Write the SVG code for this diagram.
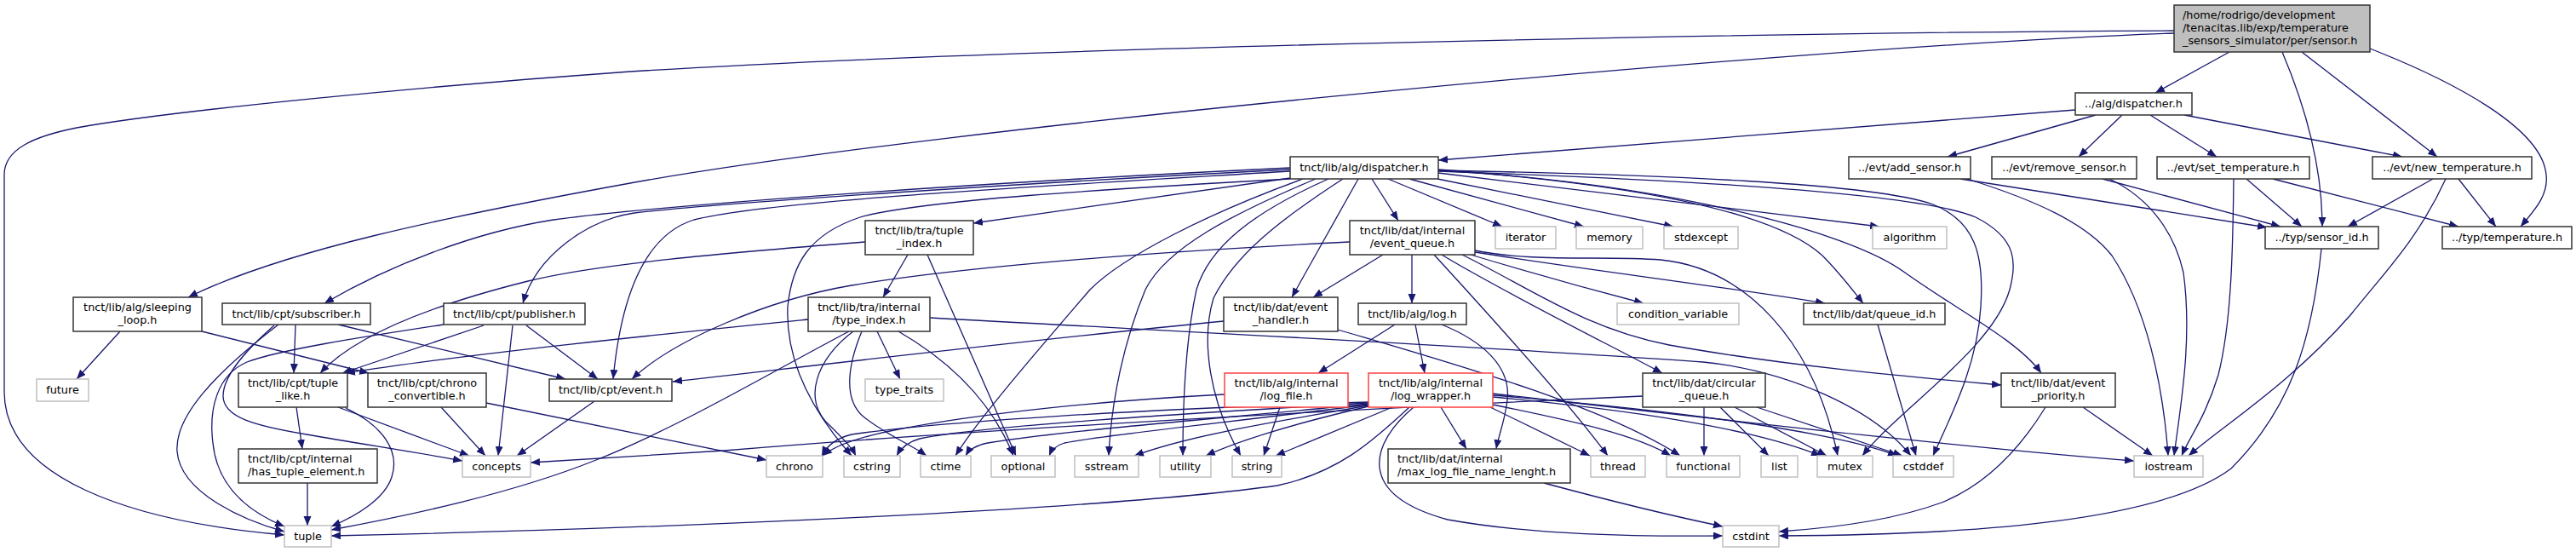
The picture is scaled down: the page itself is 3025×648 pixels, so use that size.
<svg xmlns="http://www.w3.org/2000/svg" width="3025" height="648" viewBox="0 0 3025 648">
<style>
.e{fill:none;stroke:#191970;stroke-width:1.3;marker-end:url(#ah)}
.n rect{fill:#fff;stroke:#333;stroke-width:1.5}
.s rect{stroke:#c0c0c0}
.r rect{stroke:#ff4040}
.t rect{fill:#bfbfbf}
text{font-family:"DejaVu Sans",Verdana,sans-serif;font-size:12.8px;fill:#000;text-anchor:middle}
.l text{text-anchor:start}
</style>
<defs>
<marker id="ah" markerUnits="userSpaceOnUse" markerWidth="12" markerHeight="10" refX="11" refY="4.5" orient="auto"><path d="M0,0L11,4.5L0,9z" fill="#191970"/></marker>
</defs>
<rect width="3025" height="648" fill="#fff"/>
<g id="connectors">
<path class="e" d="M2618,61L2531,109"/>
<path class="e" d="M2680,61C2705,120 2727,190 2727,266"/>
<path class="e" d="M2703,61L2862,184"/>
<path class="e" d="M2783,57C2880,95 2985,150 2990,205C2993,230 2975,248 2960,266"/>
<path class="e" d="M2553,36C2100,38 1200,55 740,84C500,101 200,130 90,150C40,160 5,175 5,205L5,460C5,560 150,612 334,628"/>
<path class="e" d="M2553,39C2100,55 1100,150 740,215C520,255 330,295 221,349"/>
<path class="e" d="M2437,129L1689,188"/>
<path class="e" d="M2461,135L2287,184"/>
<path class="e" d="M2492,135L2441,184"/>
<path class="e" d="M2525,135L2603,184"/>
<path class="e" d="M2565,135L2821,184"/>
<path class="e" d="M2302,210L2662,267"/>
<path class="e" d="M2310,210C2390,235 2450,262 2480,300C2520,360 2540,450 2546,535"/>
<path class="e" d="M2469,210L2678,266"/>
<path class="e" d="M2477,210C2530,235 2555,280 2564,320C2575,400 2560,480 2553,535"/>
<path class="e" d="M2638,210L2703,266"/>
<path class="e" d="M2669,210L2887,266"/>
<path class="e" d="M2623,210C2622,300 2620,380 2605,440C2590,490 2570,515 2562,535"/>
<path class="e" d="M2857,210L2757,266"/>
<path class="e" d="M2887,210L2931,266"/>
<path class="e" d="M2872,210C2840,280 2800,320 2760,370C2690,450 2610,500 2570,535"/>
<path class="e" d="M2726,292C2715,400 2690,480 2620,550C2540,610 2330,628 2089,629"/>
<path class="e" d="M2446,478L2528,535"/>
<path class="e" d="M2402,478C2370,530 2330,570 2280,590C2220,612 2150,620 2089,624"/>
<path class="e" d="M2205,381L2250,535"/>
<path class="e" d="M1929,465C1700,475 1200,500 850,529C750,535 680,540 623,543"/>
<path class="e" d="M2001,478L2001,535"/>
<path class="e" d="M2020,478L2077,535"/>
<path class="e" d="M2037,478L2145,535"/>
<path class="e" d="M2063,478L2234,535"/>
<path class="e" d="M1692,478L1722,527"/>
<path class="e" d="M1635,478L1498,535"/>
<path class="e" d="M1607,477C1530,495 1460,515 1416,535"/>
<path class="e" d="M1607,476C1500,495 1400,510 1332,535"/>
<path class="e" d="M1607,475C1450,495 1300,510 1250,520C1240,523 1235,528 1232,535"/>
<path class="e" d="M1607,474C1450,490 1250,505 1160,520C1145,523 1138,528 1134,535"/>
<path class="e" d="M1607,473C1400,485 1150,500 1080,515C1065,519 1058,526 1053,535"/>
<path class="e" d="M1607,472C1350,480 1100,495 1000,510C980,515 970,525 965,535"/>
<path class="e" d="M1655,478C1610,520 1570,555 1500,570C1300,598 800,620 389,629"/>
<path class="e" d="M1660,478C1610,520 1590,580 1700,610C1800,628 1920,630 2023,629"/>
<path class="e" d="M1750,478L1867,535"/>
<path class="e" d="M1753,475C1850,495 1920,510 1962,535"/>
<path class="e" d="M1753,466C1900,480 2050,500 2138,535"/>
<path class="e" d="M1753,464C1950,480 2150,505 2228,535"/>
<path class="e" d="M1753,462C2000,490 2300,525 2506,541"/>
<path class="e" d="M1503,478L1484,535"/>
<path class="e" d="M1438,463C1300,470 1150,485 1050,505C1000,515 978,525 966,535"/>
<path class="e" d="M1638,381L1548,438"/>
<path class="e" d="M1662,381L1673,438"/>
<path class="e" d="M1693,381C1740,400 1775,430 1770,470C1767,495 1760,510 1757,527"/>
<path class="e" d="M1813,567C1880,585 1960,605 2023,618"/>
<path class="e" d="M1437,377C1200,400 950,430 790,448"/>
<path class="e" d="M1571,387C1700,425 1880,475 1973,535"/>
<path class="e" d="M1624,299L1542,349"/>
<path class="e" d="M1658,299L1658,356"/>
<path class="e" d="M1684,299C1740,360 1840,470 1888,535"/>
<path class="e" d="M1693,299C1760,340 1900,410 1952,438"/>
<path class="e" d="M1717,299C1800,340 1860,385 1960,405C2100,430 2250,443 2350,452"/>
<path class="e" d="M1727,299C1790,318 1880,343 1930,356"/>
<path class="e" d="M1732,296C1850,315 2050,340 2143,356"/>
<path class="e" d="M1732,294C1800,308 1880,300 1950,305C2050,315 2130,400 2158,535"/>
<path class="e" d="M1585,284C1300,298 1100,318 1000,335C900,352 790,400 742,445"/>
<path class="e" d="M1016,284C850,297 700,310 620,330C520,355 420,390 376,438"/>
<path class="e" d="M1066,299L1037,349"/>
<path class="e" d="M1089,299L1193,535"/>
<path class="e" d="M949,375C800,390 550,415 406,438"/>
<path class="e" d="M997,389C900,440 800,500 700,540C600,580 480,605 389,622"/>
<path class="e" d="M1002,389C960,420 940,470 975,500C990,515 1000,525 1005,535"/>
<path class="e" d="M1012,389C995,430 990,470 1015,490C1040,510 1070,522 1088,535"/>
<path class="e" d="M1030,389L1057,445"/>
<path class="e" d="M1055,389C1100,415 1160,460 1190,535"/>
<path class="e" d="M1092,373C1400,390 1800,410 2000,425C2100,435 2200,480 2244,535"/>
<path class="e" d="M141,389L90,445"/>
<path class="e" d="M237,389L433,438"/>
<path class="e" d="M347,381L345,438"/>
<path class="e" d="M397,381L664,445"/>
<path class="e" d="M327,381C250,440 205,490 208,530C212,580 290,612 334,624"/>
<path class="e" d="M322,382C290,410 262,440 262,465C262,490 300,500 360,510C430,522 500,533 543,541"/>
<path class="e" d="M568,382L402,438"/>
<path class="e" d="M602,382L585,535"/>
<path class="e" d="M618,382L702,445"/>
<path class="e" d="M521,381C430,395 330,410 290,425C255,440 245,480 250,520C255,570 290,600 334,618"/>
<path class="e" d="M348,478L355,527"/>
<path class="e" d="M397,478L551,535"/>
<path class="e" d="M406,479C450,500 470,530 460,560C452,585 420,605 389,618"/>
<path class="e" d="M361,567L361,617"/>
<path class="e" d="M518,478L570,535"/>
<path class="e" d="M571,473L900,540"/>
<path class="e" d="M698,471L607,535"/>
<path class="e" d="M1515,209L1143,262"/>
<path class="e" d="M1515,197C1200,212 800,238 650,258C560,272 460,310 381,356"/>
<path class="e" d="M1515,199C1200,215 850,238 745,250C690,258 630,300 614,356"/>
<path class="e" d="M1515,201C1200,220 900,236 815,258C760,275 730,340 720,445"/>
<path class="e" d="M1515,210C1300,222 1080,235 1010,255C950,275 930,310 925,360C922,430 960,490 1000,535"/>
<path class="e" d="M1530,210C1420,250 1320,300 1280,340C1220,410 1150,490 1122,535"/>
<path class="e" d="M1545,210C1450,250 1370,290 1345,340C1320,400 1305,470 1302,535"/>
<path class="e" d="M1560,210C1470,250 1420,290 1405,340C1392,400 1389,470 1389,535"/>
<path class="e" d="M1577,210C1500,260 1450,300 1425,350C1410,400 1420,470 1457,535"/>
<path class="e" d="M1595,210L1517,349"/>
<path class="e" d="M1611,210L1642,259"/>
<path class="e" d="M1630,210L1764,266"/>
<path class="e" d="M1655,210L1860,266"/>
<path class="e" d="M1688,210L1965,266"/>
<path class="e" d="M1689,203L2207,266"/>
<path class="e" d="M1689,199C1900,215 2080,245 2140,300C2160,320 2175,340 2188,356"/>
<path class="e" d="M1689,200C1950,215 2170,270 2237,320C2300,365 2370,400 2397,438"/>
<path class="e" d="M1689,201C1950,210 2250,225 2320,255C2370,280 2368,310 2360,340C2340,410 2230,480 2187,535"/>
<path class="e" d="M1689,200C1950,205 2200,215 2270,240C2320,260 2330,300 2326,360C2322,430 2290,490 2270,535"/>
</g>
<g id="sensor_h" class="n t l"><rect x="2553" y="6" width="230" height="55"/><text x="2563" y="22.3">/home/rodrigo/development</text><text x="2563" y="37.3">/tenacitas.lib/exp/temperature</text><text x="2563" y="52.3">_sensors_simulator/per/sensor.h</text></g>
<g id="alg_dispatcher_rel" class="n"><rect x="2437" y="109" width="137" height="26"/><text x="2505.5" y="126">../alg/dispatcher.h</text></g>
<g id="alg_dispatcher" class="n"><rect x="1515" y="184" width="174" height="26"/><text x="1602" y="201">tnct/lib/alg/dispatcher.h</text></g>
<g id="add_sensor" class="n"><rect x="2171" y="184" width="143" height="26"/><text x="2242.5" y="201">../evt/add_sensor.h</text></g>
<g id="remove_sensor" class="n"><rect x="2339" y="184" width="170" height="26"/><text x="2424" y="201">../evt/remove_sensor.h</text></g>
<g id="set_temperature" class="n"><rect x="2533" y="184" width="179" height="26"/><text x="2622.5" y="201">../evt/set_temperature.h</text></g>
<g id="new_temperature" class="n"><rect x="2786" y="184" width="187" height="26"/><text x="2879.5" y="201">../evt/new_temperature.h</text></g>
<g id="sensor_id" class="n"><rect x="2660" y="266" width="133" height="26"/><text x="2726.5" y="283">../typ/sensor_id.h</text></g>
<g id="temperature" class="n"><rect x="2868" y="266" width="152" height="26"/><text x="2944" y="283">../typ/temperature.h</text></g>
<g id="sleeping_loop" class="n"><rect x="86" y="349" width="151" height="40"/><text x="161.5" y="365.3">tnct/lib/alg/sleeping</text><text x="161.5" y="380.3">_loop.h</text></g>
<g id="future" class="n s"><rect x="43" y="445" width="61" height="26"/><text x="73.5" y="462">future</text></g>
<g id="subscriber" class="n"><rect x="261" y="356" width="174" height="25"/><text x="348" y="373">tnct/lib/cpt/subscriber.h</text></g>
<g id="publisher" class="n"><rect x="521" y="356" width="166" height="25"/><text x="604" y="373">tnct/lib/cpt/publisher.h</text></g>
<g id="tuple_index" class="n"><rect x="1016" y="259" width="127" height="40"/><text x="1079.5" y="275.3">tnct/lib/tra/tuple</text><text x="1079.5" y="290.3">_index.h</text></g>
<g id="type_index" class="n"><rect x="949" y="349" width="143" height="40"/><text x="1020.5" y="365.3">tnct/lib/tra/internal</text><text x="1020.5" y="380.3">/type_index.h</text></g>
<g id="type_traits" class="n s"><rect x="1016" y="445" width="92" height="26"/><text x="1062" y="462">type_traits</text></g>
<g id="event_queue" class="n"><rect x="1585" y="259" width="147" height="40"/><text x="1658.5" y="275.3">tnct/lib/dat/internal</text><text x="1658.5" y="290.3">/event_queue.h</text></g>
<g id="event_handler" class="n"><rect x="1437" y="349" width="134" height="40"/><text x="1504" y="365.3">tnct/lib/dat/event</text><text x="1504" y="380.3">_handler.h</text></g>
<g id="log_h" class="n"><rect x="1595" y="356" width="127" height="25"/><text x="1658.5" y="373">tnct/lib/alg/log.h</text></g>
<g id="log_file" class="n r"><rect x="1438" y="438" width="145" height="40"/><text x="1510.5" y="454.3">tnct/lib/alg/internal</text><text x="1510.5" y="469.3">/log_file.h</text></g>
<g id="log_wrapper" class="n r"><rect x="1607" y="438" width="146" height="40"/><text x="1680" y="454.3">tnct/lib/alg/internal</text><text x="1680" y="469.3">/log_wrapper.h</text></g>
<g id="max_log" class="n l"><rect x="1630" y="527" width="214" height="40"/><text x="1641" y="543.3">tnct/lib/dat/internal</text><text x="1641" y="558.3">/max_log_file_name_lenght.h</text></g>
<g id="condition_variable" class="n s"><rect x="1899" y="356" width="143" height="25"/><text x="1970.5" y="373">condition_variable</text></g>
<g id="queue_id" class="n"><rect x="2118" y="356" width="166" height="25"/><text x="2201" y="373">tnct/lib/dat/queue_id.h</text></g>
<g id="circular_queue" class="n"><rect x="1929" y="438" width="144" height="40"/><text x="2001" y="454.3">tnct/lib/dat/circular</text><text x="2001" y="469.3">_queue.h</text></g>
<g id="event_priority" class="n"><rect x="2350" y="438" width="134" height="40"/><text x="2417" y="454.3">tnct/lib/dat/event</text><text x="2417" y="469.3">_priority.h</text></g>
<g id="tuple_like" class="n"><rect x="280" y="438" width="128" height="40"/><text x="344" y="454.3">tnct/lib/cpt/tuple</text><text x="344" y="469.3">_like.h</text></g>
<g id="chrono_convertible" class="n"><rect x="432" y="438" width="139" height="40"/><text x="501.5" y="454.3">tnct/lib/cpt/chrono</text><text x="501.5" y="469.3">_convertible.h</text></g>
<g id="cpt_event" class="n"><rect x="645" y="445" width="144" height="26"/><text x="717" y="462">tnct/lib/cpt/event.h</text></g>
<g id="has_tuple_element" class="n l"><rect x="280" y="527" width="163" height="40"/><text x="291" y="543.3">tnct/lib/cpt/internal</text><text x="291" y="558.3">/has_tuple_element.h</text></g>
<g id="iterator" class="n s"><rect x="1756" y="266" width="71" height="26"/><text x="1791.5" y="283">iterator</text></g>
<g id="memory" class="n s"><rect x="1851" y="266" width="78" height="26"/><text x="1890" y="283">memory</text></g>
<g id="stdexcept" class="n s"><rect x="1954" y="266" width="87" height="26"/><text x="1997.5" y="283">stdexcept</text></g>
<g id="algorithm" class="n s"><rect x="2199" y="266" width="87" height="26"/><text x="2242.5" y="283">algorithm</text></g>
<g id="concepts" class="n s"><rect x="543" y="535" width="80" height="25"/><text x="583" y="552">concepts</text></g>
<g id="tuple" class="n s"><rect x="334" y="617" width="55" height="25"/><text x="361.5" y="634">tuple</text></g>
<g id="chrono" class="n s"><rect x="900" y="535" width="66" height="25"/><text x="933" y="552">chrono</text></g>
<g id="cstring" class="n s"><rect x="991" y="535" width="66" height="25"/><text x="1024" y="552">cstring</text></g>
<g id="ctime" class="n s"><rect x="1081" y="535" width="59" height="25"/><text x="1110.5" y="552">ctime</text></g>
<g id="optional" class="n s"><rect x="1164" y="535" width="75" height="25"/><text x="1201.5" y="552">optional</text></g>
<g id="sstream" class="n s"><rect x="1262" y="535" width="75" height="25"/><text x="1299.5" y="552">sstream</text></g>
<g id="utility" class="n s"><rect x="1362" y="535" width="60" height="25"/><text x="1392" y="552">utility</text></g>
<g id="string" class="n s"><rect x="1447" y="535" width="58" height="25"/><text x="1476" y="552">string</text></g>
<g id="thread" class="n s"><rect x="1868" y="535" width="64" height="25"/><text x="1900" y="552">thread</text></g>
<g id="functional" class="n s"><rect x="1957" y="535" width="86" height="25"/><text x="2000" y="552">functional</text></g>
<g id="list" class="n s"><rect x="2068" y="535" width="43" height="25"/><text x="2089.5" y="552">list</text></g>
<g id="mutex" class="n s"><rect x="2134" y="535" width="65" height="25"/><text x="2166.5" y="552">mutex</text></g>
<g id="cstddef" class="n s"><rect x="2223" y="535" width="71" height="25"/><text x="2258.5" y="552">cstddef</text></g>
<g id="iostream" class="n s"><rect x="2506" y="535" width="81" height="25"/><text x="2546.5" y="552">iostream</text></g>
<g id="cstdint" class="n s"><rect x="2023" y="617" width="66" height="25"/><text x="2056" y="634">cstdint</text></g>
</svg>
